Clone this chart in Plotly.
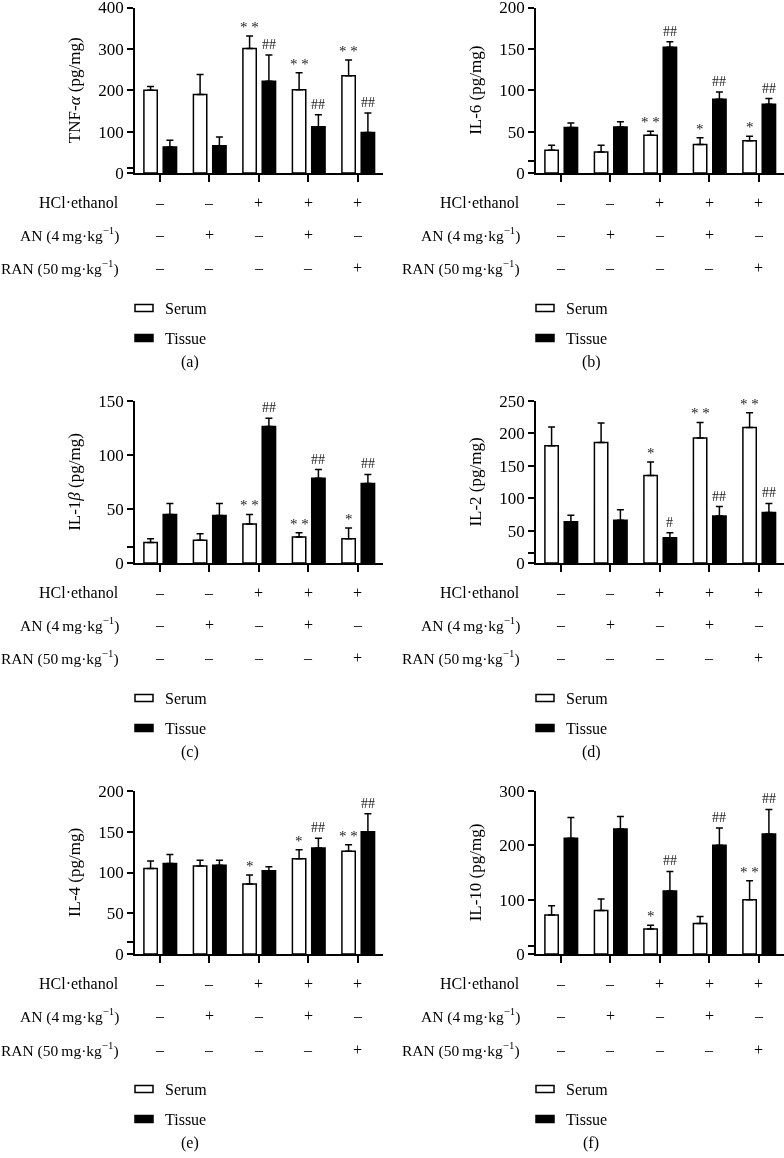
import plotly.graph_objects as go

W, H = 784, 1158
FONT = "Liberation Serif"

categories = [0, 1, 2, 3, 4]
hcl_row = ["–", "–", "+", "+", "+"]
an_row = ["–", "+", "–", "+", "–"]
ran_row = ["–", "–", "–", "–", "+"]

# Panel (a) TNF-alpha
a_serum = [200, 190, 301, 201, 235]
a_serum_err = [209, 238, 331, 242, 273]
a_tissue = [63, 66, 222, 112, 98]
a_tissue_err = [79, 87, 285, 141, 145]
a_serum_sig = ["", "", "* *", "* *", "* *"]
a_tissue_sig = ["", "", "##", "##", "##"]

# Panel (b) IL-6
b_serum = [27.5, 25.5, 45.5, 34.5, 39]
b_serum_err = [33.5, 33.5, 50.5, 42.5, 44.5]
b_tissue = [55, 55.5, 152, 89, 83]
b_tissue_err = [60.5, 62, 158.5, 98, 90]
b_serum_sig = ["", "", "* *", "*", "*"]
b_tissue_sig = ["", "", "##", "##", "##"]

# Panel (c) IL-1beta
c_serum = [19, 21, 36, 24, 22.5]
c_serum_err = [22.5, 27, 45, 28, 32.5]
c_tissue = [45, 44, 126.5, 78.5, 73.5]
c_tissue_err = [55, 55, 134, 86.5, 82]
c_serum_sig = ["", "", "* *", "* *", "*"]
c_tissue_sig = ["", "", "##", "##", "##"]

# Panel (d) IL-2
d_serum = [181, 186, 135, 193, 209]
d_serum_err = [210, 216, 156, 217, 232]
d_tissue = [63.5, 66, 39, 72.5, 78]
d_tissue_err = [73.5, 82, 46.5, 87, 92]
d_serum_sig = ["", "", "*", "* *", "* *"]
d_tissue_sig = ["", "", "#", "##", "##"]

# Panel (e) IL-4
e_serum = [105, 108, 86, 117, 126]
e_serum_err = [114, 115, 97, 128, 134]
e_tissue = [111, 109, 102, 130, 150]
e_tissue_err = [122, 115, 107, 142, 172]
e_serum_sig = ["", "", "*", "*", "* *"]
e_tissue_sig = ["", "", "", "##", "##"]

# Panel (f) IL-10
f_serum = [72, 80, 46, 56, 100]
f_serum_err = [89, 101, 53, 69, 135]
f_tissue = [213, 230, 116, 200, 221]
f_tissue_err = [251, 253, 152, 232, 266]
f_serum_sig = ["", "", "*", "", "* *"]
f_tissue_sig = ["", "", "##", "##", "##"]

panels = [
    dict(left=135, top=7.5, zero=173, ymax=400, brk=13, dtick=100,
         title="TNF-<i>α</i> (pg/mg)", s=a_serum, se=a_serum_err, t=a_tissue, te=a_tissue_err,
         ss=a_serum_sig, ts=a_tissue_sig, label="(a)"),
    dict(left=536, top=7.5, zero=173, ymax=200, brk=14, dtick=50,
         title="IL-6 (pg/mg)", s=b_serum, se=b_serum_err, t=b_tissue, te=b_tissue_err,
         ss=b_serum_sig, ts=b_tissue_sig, label="(b)"),
    dict(left=135, top=401, zero=563, ymax=150, brk=15, dtick=50,
         title="IL-1<i>β</i> (pg/mg)", s=c_serum, se=c_serum_err, t=c_tissue, te=c_tissue_err,
         ss=c_serum_sig, ts=c_tissue_sig, label="(c)"),
    dict(left=536, top=401, zero=563, ymax=250, brk=15, dtick=50,
         title="IL-2 (pg/mg)", s=d_serum, se=d_serum_err, t=d_tissue, te=d_tissue_err,
         ss=d_serum_sig, ts=d_tissue_sig, label="(d)"),
    dict(left=135, top=791, zero=954, ymax=200, brk=15, dtick=50,
         title="IL-4 (pg/mg)", s=e_serum, se=e_serum_err, t=e_tissue, te=e_tissue_err,
         ss=e_serum_sig, ts=e_tissue_sig, label="(e)"),
    dict(left=536, top=791, zero=954, ymax=300, brk=14, dtick=100,
         title="IL-10 (pg/mg)", s=f_serum, se=f_serum_err, t=f_tissue, te=f_tissue_err,
         ss=f_serum_sig, ts=f_tissue_sig, label="(f)"),
]

CAT_W = 49.5
BAR_W = 0.27
S_OFF = -0.32
T_OFF = 0.07

def px_x(px):
    return px / W

def px_y(py):
    return 1 - py / H

fig = go.Figure()
annotations = []
shapes = []
TS = "\u2009"

for k, p in enumerate(panels):
    n = "" if k == 0 else str(k + 1)
    xa, ya = "x" + n, "y" + n
    right = p["left"] + CAT_W * 5
    fig.add_trace(go.Bar(
        x=categories, y=p["s"], xaxis=xa, yaxis=ya, width=BAR_W, offset=S_OFF,
        marker=dict(color="white", line=dict(color="black", width=1.5)),
        error_y=dict(type="data", symmetric=False,
                     array=[e - v for e, v in zip(p["se"], p["s"])],
                     arrayminus=[0] * 5, color="black", thickness=1.5, width=3.5),
        showlegend=False, name="Serum"))
    fig.add_trace(go.Bar(
        x=categories, y=p["t"], xaxis=xa, yaxis=ya, width=BAR_W, offset=T_OFF,
        marker=dict(color="black", line=dict(color="black", width=1.5)),
        error_y=dict(type="data", symmetric=False,
                     array=[e - v for e, v in zip(p["te"], p["t"])],
                     arrayminus=[0] * 5, color="black", thickness=1.5, width=3.5),
        showlegend=False, name="Tissue"))

    tickvals = [0, p["brk"]] + list(range(p["dtick"], p["ymax"] + 1, p["dtick"]))
    ticktext = ["0", ""] + [str(v) for v in range(p["dtick"], p["ymax"] + 1, p["dtick"])]
    fig.layout[("xaxis" + n)] = dict(
        domain=[px_x(p["left"]), px_x(right)], range=[-0.5, 4.5], anchor=ya,
        automargin=False,
        showline=True, linecolor="black", linewidth=1.5, ticks="outside",
        ticklen=7, tickwidth=1.5, tickcolor="black", tickvals=categories,
        showticklabels=False, showgrid=False, zeroline=False, fixedrange=True)
    fig.layout[("yaxis" + n)] = dict(
        domain=[px_y(p["zero"]), px_y(p["top"])], range=[0, p["ymax"]], anchor=xa,
        automargin=False, ticklabeloverflow="allow",
        showline=True, linecolor="black", linewidth=1.5, ticks="outside",
        ticklen=6, tickwidth=1.5, tickcolor="black", tickvals=tickvals,
        ticktext=ticktext, showgrid=False, zeroline=False,
        tickfont=dict(family=FONT, size=17, color="black"),
        title=dict(text=p["title"], font=dict(family=FONT, size=17, color="black"),
                   standoff=13))

    for i in categories:
        if p["ss"][i]:
            annotations.append(dict(x=i + S_OFF + BAR_W / 2, y=p["se"][i], xref=xa, yref=ya,
                                    text=p["ss"][i], showarrow=False, yanchor="bottom",
                                    yshift=-1, font=dict(family=FONT, size=15, color="#222")))
        if p["ts"][i]:
            annotations.append(dict(x=i + T_OFF + BAR_W / 2, y=p["te"][i], xref=xa, yref=ya,
                                    text=p["ts"][i], showarrow=False, yanchor="bottom",
                                    yshift=1, font=dict(family=FONT, size=14, color="#222")))

    rows = [("HCl·ethanol", hcl_row, 29, 16),
            ("AN (4" + TS + "mg·kg<sup>−1</sup>)", an_row, 61, 15.5),
            ("RAN (50" + TS + "mg·kg<sup>−1</sup>)", ran_row, 95, 15.5)]
    for lab, vals, dy, fs in rows:
        annotations.append(dict(x=px_x(p["left"] - 14), y=px_y(p["zero"] + dy), xref="paper",
                                yref="paper", text=lab, showarrow=False, xanchor="right",
                                yanchor="middle", font=dict(family=FONT, size=fs, color="black")))
        for i in categories:
            annotations.append(dict(x=i, y=px_y(p["zero"] + dy), xref=xa, yref="paper",
                                    text=vals[i], showarrow=False, xanchor="center",
                                    yanchor="middle", font=dict(family=FONT, size=16, color="black")))

    for lab, fill, dy in [("Serum", "white", 135), ("Tissue", "black", 165)]:
        cy = p["zero"] + dy
        shapes.append(dict(type="rect", xref="paper", yref="paper",
                           x0=px_x(p["left"]), x1=px_x(p["left"] + 18),
                           y0=px_y(cy + 3.5), y1=px_y(cy - 3.5),
                           line=dict(color="black", width=1.5), fillcolor=fill))
        annotations.append(dict(x=px_x(p["left"] + 28), y=px_y(cy), xref="paper", yref="paper",
                                text=lab, showarrow=False, xanchor="left", yanchor="middle",
                                font=dict(family=FONT, size=16, color="black")))
    annotations.append(dict(x=px_x(p["left"] + 55), y=px_y(p["zero"] + 189), xref="paper",
                            yref="paper", text=p["label"], showarrow=False, xanchor="center",
                            yanchor="middle", font=dict(family=FONT, size=16, color="black")))

fig.update_layout(
    width=W, height=H, margin=dict(l=0, r=0, t=0, b=0, autoexpand=False),
    paper_bgcolor="white", plot_bgcolor="white",
    barmode="overlay", showlegend=False,
    annotations=annotations, shapes=shapes,
    font=dict(family=FONT, size=16, color="black"),
)

fig.write_html(
    "out.html", config={"displayModeBar": False},
    post_script=("document.body.style.margin='0';document.body.style.overflow='hidden';"
                 "document.querySelectorAll('.main-svg').forEach(function(s){"
                 "s.style.willChange='transform';});"))
